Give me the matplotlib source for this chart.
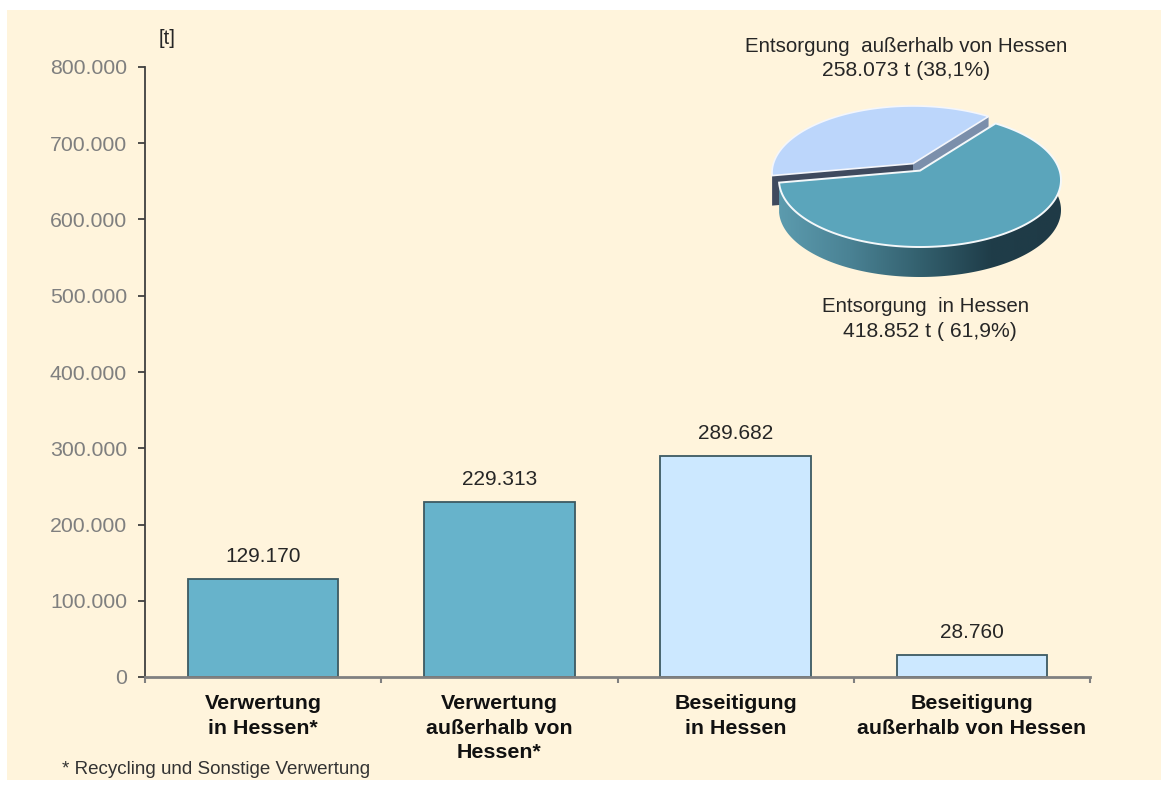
import numpy as np
import matplotlib
matplotlib.use("Agg")
import matplotlib.pyplot as plt
from matplotlib.patches import Rectangle, Polygon
from matplotlib.colors import LinearSegmentedColormap

plt.rcParams['font.family'] = ['Liberation Sans', 'DejaVu Sans']

categories = ["Verwertung\nin Hessen*", "Verwertung\naußerhalb von\nHessen*",
              "Beseitigung\nin Hessen", "Beseitigung\naußerhalb von Hessen"]
values = [129170, 229313, 289682, 28760]
value_labels = ["129.170", "229.313", "289.682", "28.760"]
bar_colors = ["#67b3cb", "#67b3cb", "#cce8ff", "#cce8ff"]
y_ticks = [0, 100000, 200000, 300000, 400000, 500000, 600000, 700000, 800000]
y_tick_labels = ["0", "100.000", "200.000", "300.000", "400.000", "500.000", "600.000", "700.000", "800.000"]
pie_values = [258073, 418852]
pie_label_lines = ["Entsorgung  außerhalb von Hessen", "258.073 t (38,1%)", "Entsorgung  in Hessen", "418.852 t ( 61,9%)"]

W, H = 1161, 789
fig = plt.figure(figsize=(W / 100, H / 100), dpi=100, facecolor="white")
bg = fig.add_axes([0, 0, 1, 1], zorder=0)
bg.set_xlim(0, W); bg.set_ylim(H, 0); bg.axis("off")
bg.add_patch(Rectangle((7, 10), W - 7, 770, facecolor="#fff4dc", edgecolor="none"))

ax = fig.add_axes([145 / W, 1 - 677 / H, 945 / W, 610 / H], zorder=1)
ax.patch.set_alpha(0)
x = np.arange(len(values))
ax.bar(x, values, width=0.638, color=bar_colors, edgecolor="#3d5a62", linewidth=1.3, zorder=2)
for xi, v, lab in zip(x, values, value_labels):
    ax.annotate(lab, (xi, v), xytext=(0, 13), textcoords="offset pixels", ha="center", va="bottom",
                fontsize=15, color="#262626")
ax.set_xlim(-0.5, 3.5)
ax.set_ylim(0, 800000)
ax.set_yticks(y_ticks, y_tick_labels, fontsize=15.3, color="#7f7f7f")
ax.tick_params(axis="y", length=5, width=1.3, color="#404040", pad=8)
ax.set_xticks(np.arange(-0.5, 4, 1), [""] * 5)
ax.tick_params(axis="x", which="major", length=4, width=1.5, color="#808080")
ax.set_xticks(x, categories, minor=True, fontsize=15.4, fontweight="bold", color="#111111", linespacing=1.37)
ax.tick_params(axis="x", which="minor", length=0, pad=12.5)
for s in ("top", "right"):
    ax.spines[s].set_visible(False)
ax.spines["left"].set_color("#404040"); ax.spines["left"].set_linewidth(1.3)
ax.spines["bottom"].set_color("#808080"); ax.spines["bottom"].set_linewidth(2)

ov = fig.add_axes([0, 0, 1, 1], zorder=2)
ov.patch.set_alpha(0); ov.axis("off")

K, RX, RY, DEPTH = 0.14, 141.0, 67.0, 30

def project(theta_deg, r, ecx, ecy):
    t = np.radians(theta_deg)
    px, py = r * np.cos(t), r * np.sin(t)
    d = 1 + K * py
    return (ecx + RX * np.sqrt(1 - K**2) * px / d,
            ecy - RY * K - RY * (1 - K**2) * py / d)

def wedge_xy(a0, a1, ecx, ecy):
    th = np.linspace(a0, a1, 160)
    xs, ys = project(th, 1.0, ecx, ecy)
    ax0, ay0 = project(0.0, 0.0, ecx, ecy)
    return np.r_[ax0, xs], np.r_[ay0, ys]

frac = np.array(pie_values) / sum(pie_values) * 360
start = 53.0
a_light = (start, start + frac[0])
a_teal = (a_light[1], a_light[1] + frac[1])
LC = (913, 173)
TC = (920, 180)

lx, ly = wedge_xy(*a_light, *LC)
for idx, col in ((1, "#7b8fab"), (-1, "#3f4a5e")):
    qx = [lx[0], lx[idx], lx[idx], lx[0]]
    qy = [ly[0], ly[idx], ly[idx] + DEPTH, ly[0] + DEPTH]
    ov.add_patch(Polygon(np.c_[qx, qy], closed=True, facecolor=col, edgecolor="none", zorder=3))
ov.add_patch(Polygon(np.c_[lx, ly], closed=True, facecolor="#bcd6fb", edgecolor="#f4f6fb", linewidth=1.2, zorder=4))

th = np.linspace(a_teal[0], 368, 200)
wx, wy = project(th, 1.0, *TC)
wall = Polygon(np.c_[np.r_[wx, wx[::-1]], np.r_[wy, wy[::-1] + DEPTH]], closed=True, facecolor="none", edgecolor="none")
ov.add_patch(wall)
cmap = LinearSegmentedColormap.from_list("wall", ["#5c9bae", "#4a8294", "#33606e", "#1f3d49", "#1f3a46"])
im = ov.imshow(np.linspace(0, 1, 256).reshape(1, -1), cmap=cmap, aspect="auto",
               extent=(wx.min(), wx.max(), wy.max() + DEPTH, wy.min()), zorder=5)
im.set_clip_path(wall)

tx, ty = wedge_xy(*a_teal, *TC)
ov.add_patch(Polygon(np.c_[tx, ty], closed=True, facecolor="#5ba5bb", edgecolor="#f4f8fa", linewidth=1.4, zorder=6))

ov.set_xlim(0, W); ov.set_ylim(H, 0)

for (px, py), line, fs in zip([(906, 46), (906, 70), (926, 306), (930, 331)], pie_label_lines, [14.8, 15.2, 14.8, 15.2]):
    ov.text(px, py, line, ha="center", va="center", fontsize=fs, color="#262626", zorder=7)
ov.text(159, 38, "[t]", ha="left", va="center", fontsize=14.5, color="#262626", zorder=7)
ov.text(62, 770, "* Recycling und Sonstige Verwertung", ha="left", va="center", fontsize=13.5, color="#333333", zorder=7)

fig.savefig("out.png", dpi=100, facecolor="white")
